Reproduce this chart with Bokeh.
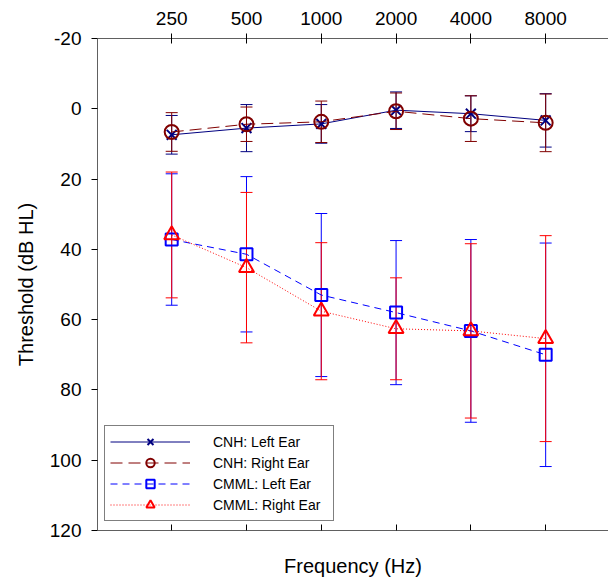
from bokeh.plotting import figure
from bokeh.models import (Range1d, FixedTicker, LogAxis, Whisker, ColumnDataSource,
                          Legend, LegendItem, TeeHead)
from bokeh.embed import file_html
from bokeh.resources import INLINE

# ---- data ----
freqs = [250, 500, 1000, 2000, 4000, 8000]
freq_labels = ["250", "500", "1000", "2000", "4000", "8000"]
y_ticks = [-20, 0, 20, 40, 60, 80, 100, 120]
y_labels = ["-20", "0", "20", "40", "60", "80", "100", "120"]

cnh_left_mean = [7.4, 5.5, 4.3, 0.4, 1.4, 3.3]
cnh_left_sd = [5.5, 6.7, 5.5, 5.2, 5.1, 7.6]
cnh_right_mean = [6.6, 4.4, 3.7, 0.7, 2.8, 4.0]
cnh_right_sd = [5.5, 4.9, 5.9, 5.2, 6.5, 8.2]
cmml_left_mean = [37.2, 41.4, 53.0, 58.0, 63.2, 70.0]
cmml_left_sd = [18.7, 22.1, 23.2, 20.5, 26.0, 31.8]
cmml_right_mean = [35.9, 45.2, 57.6, 62.6, 63.2, 65.4]
cmml_right_sd = [17.9, 21.4, 19.5, 14.5, 24.8, 29.3]

series_names = ["CNH: Left Ear", "CNH: Right Ear", "CMML: Left Ear", "CMML: Right Ear"]

FONT = "Liberation Sans"

p = figure(width=608, height=582, x_axis_type="log",
           x_range=Range1d(125.7, 14322), y_range=Range1d(120, -20),
           x_axis_location="above", output_backend="svg", toolbar_location=None,
           min_border_left=97, min_border_right=0, min_border_top=38, min_border_bottom=52)
p.outline_line_color = None
p.xgrid.visible = False
p.ygrid.visible = False

# top axis
xa = p.xaxis[0]
xa.ticker = FixedTicker(ticks=freqs)
xa.major_label_overrides = {f: l for f, l in zip(freqs, freq_labels)}
xa.major_label_text_font = FONT
xa.major_label_text_font_size = "19px"
xa.major_label_text_color = "black"
xa.major_label_standoff = 9
xa.major_tick_in = 5
xa.major_tick_out = 5
xa.minor_tick_line_color = None
xa.axis_line_color = "#606060"
xa.major_tick_line_color = "black"

# bottom axis (ticks only, no labels)
xb = LogAxis(ticker=FixedTicker(ticks=freqs), axis_label="Frequency (Hz)")
xb.major_label_text_font_size = "1px"
xb.major_label_text_color = None
xb.major_label_standoff = 0
xb.major_tick_in = 6
xb.major_tick_out = 0
xb.minor_tick_line_color = None
xb.axis_line_color = "#606060"
xb.major_tick_line_color = "black"
xb.axis_label_text_font = FONT
xb.axis_label_text_font_size = "20px"
xb.axis_label_text_font_style = "normal"
xb.axis_label_text_color = "black"
xb.axis_label_standoff = 24
p.add_layout(xb, "below")

# left axis
ya = p.yaxis[0]
ya.ticker = FixedTicker(ticks=y_ticks)
ya.major_label_overrides = {t: l for t, l in zip(y_ticks, y_labels)}
ya.axis_label = "Threshold (dB HL)"
ya.major_label_text_font = FONT
ya.major_label_text_font_size = "19px"
ya.major_label_text_color = "black"
ya.major_label_standoff = 10
ya.major_tick_in = 0
ya.major_tick_out = 6
ya.minor_tick_line_color = None
ya.axis_line_color = "#606060"
ya.major_tick_line_color = "black"
ya.axis_label_text_font = FONT
ya.axis_label_text_font_size = "20px"
ya.axis_label_text_font_style = "normal"
ya.axis_label_text_color = "black"
ya.axis_label_standoff = 10

series = [
    (cnh_left_mean, cnh_left_sd, "#000080", "x", 14, "solid"),
    (cnh_right_mean, cnh_right_sd, "#800000", "circle", 14, "12 6"),
    (cmml_left_mean, cmml_left_sd, "#0000FF", "square", 12, "7 5"),
    (cmml_right_mean, cmml_right_sd, "#FF0000", "triangle", 15, "1 2"),
]

items = []
for name, (m, sd, col, mk, sz, dash) in zip(series_names, series):
    src = ColumnDataSource(dict(
        x=freqs, y=m,
        upper=[a + b for a, b in zip(m, sd)],
        lower=[a - b for a, b in zip(m, sd)],
    ))
    w = Whisker(source=src, base="x", upper="upper", lower="lower", dimension="height",
                line_color=col, line_width=1,
                upper_head=TeeHead(size=12, line_color=col, line_width=1),
                lower_head=TeeHead(size=12, line_color=col, line_width=1))
    p.add_layout(w)
    lr = p.line("x", "y", source=src, line_color=col, line_width=1, line_dash=dash)
    sr = p.scatter("x", "y", source=src, marker=mk, size=sz, line_color=col,
                   line_width=2, fill_color=None)
    items.append(LegendItem(label=name, renderers=[lr, sr]))

legend = Legend(items=items, location=(7, 9), orientation="vertical",
                glyph_width=80, glyph_height=21, label_height=19, spacing=0,
                padding=5, margin=0, label_standoff=23, label_width=115,
                label_text_font=FONT, label_text_font_size="14px",
                label_text_color="black", border_line_color="black",
                border_line_width=1, background_fill_color="white",
                background_fill_alpha=1)
p.add_layout(legend)

open("out.html", "w").write(file_html(p, INLINE))
